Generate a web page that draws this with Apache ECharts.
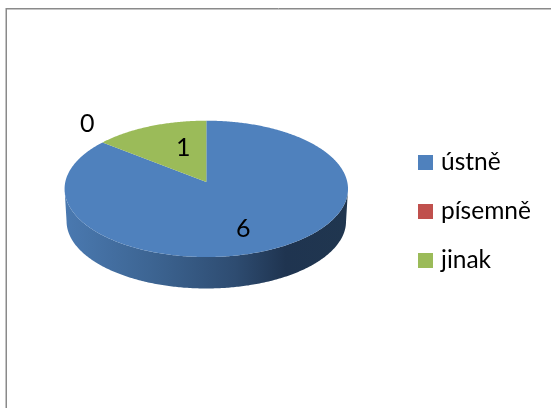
<!DOCTYPE html>
<html>
<head>
<meta charset="utf-8">
<style>html,body{margin:0;padding:0;background:#fff}#c{width:551px;height:408px}</style>
<script src="https://cdn.jsdelivr.net/npm/echarts@6/dist/echarts.min.js"></script>
</head>
<body>
<div id="c"></div>
<script>
const categories = ['ústně', 'písemně', 'jinak'];
const values = [6, 0, 1];
const colors = ['#4f81bd', '#c0504d', '#9bbb59'];

// Perspective projection of the pie disc onto the page
const disc = { cx: 206.3, cy: 182, a: 141, b: 67.5, k: 0.1005, depth: 32.5, bottomScale: 0.986 };
// Label offsets from the disc centre, in pixels
const labelOffset = [[37, 47], [-119, -58], [-23, -34]];
const FONT = 'Lato, "Noto Sans", sans-serif';

const total = values.reduce((s, v) => s + v, 0);
function project(theta, r, scale, dy) {
  const u = r * Math.sin(theta), v = -r * Math.cos(theta);
  const w = 1 - disc.k * v;
  return [disc.cx + scale * disc.a * u / w, disc.cy + dy + scale * disc.b * v / w];
}
function range(index) {
  const before = values.slice(0, index).reduce((s, v) => s + v, 0);
  return [before / total * 2 * Math.PI, (before + values[index]) / total * 2 * Math.PI];
}
function renderSlice(index) {
  const [t0, t1] = range(index);
  const children = [];
  const n = Math.max(2, Math.ceil((t1 - t0) * 90));
  const angles = [];
  for (let i = 0; i <= n; i++) angles.push(t0 + (t1 - t0) * i / n);
  // side wall: only where the rim faces the viewer
  const front = angles.filter(t => -Math.cos(t) >= disc.k);
  if (front.length > 1) {
    const upper = front.map(t => project(t, 1, 1, 0));
    const lower = front.slice().reverse().map(t => project(t, 1, disc.bottomScale, disc.depth));
    children.push({
      type: 'polygon', z2: 1,
      shape: { points: upper.concat(lower) },
      style: {
        fill: {
          type: 'linear', global: true, x: 65, y: 0, x2: 348, y2: 0,
          colorStops: [
            { offset: 0, color: '#4a79b0' },
            { offset: 0.3, color: '#3d6593' },
            { offset: 0.6, color: '#2e4c71' },
            { offset: 0.78, color: '#1f3450' },
            { offset: 1, color: '#20364f' }
          ]
        }
      }
    });
  }
  if (values[index] > 0) {
    const pts = [[disc.cx, disc.cy]].concat(angles.map(t => project(t, 1, 1, 0)));
    children.push({ type: 'polygon', z2: 2, shape: { points: pts }, style: { fill: colors[index] } });
  }
  children.push({
    type: 'text', z2: 3,
    x: disc.cx + labelOffset[index][0], y: disc.cy + labelOffset[index][1],
    style: { text: String(values[index]), fill: '#000', font: '25px ' + FONT, align: 'center', verticalAlign: 'middle' }
  });
  return { type: 'group', children };
}

const chart = echarts.init(document.getElementById('c'), null, { renderer: 'canvas' });
chart.setOption({
  animation: false,
  backgroundColor: '#fff',
  legend: {
    orient: 'vertical', left: 418, top: 150, icon: 'rect',
    itemWidth: 15, itemHeight: 15, itemGap: 24, padding: 0,
    data: categories,
    textStyle: { color: '#000', fontFamily: FONT, fontSize: 24.5, lineHeight: 15, padding: [0, 0, 0, 3] }
  },
  graphic: [
    { type: 'line', shape: { x1: 6, y1: 8.5, x2: 551, y2: 8.5 }, style: { stroke: '#8a8a8a', lineWidth: 1 } },
    { type: 'line', shape: { x1: 7, y1: 9.5, x2: 551, y2: 9.5 }, style: { stroke: '#c4c4c4', lineWidth: 1 } },
    { type: 'line', shape: { x1: 5.5, y1: 8, x2: 5.5, y2: 408 }, style: { stroke: '#c4c4c4', lineWidth: 1 } },
    { type: 'line', shape: { x1: 6.5, y1: 8, x2: 6.5, y2: 408 }, style: { stroke: '#8a8a8a', lineWidth: 1 } }
  ],
  series: categories.map((name, i) => ({
    type: 'custom', name, coordinateSystem: 'none',
    itemStyle: { color: colors[i] },
    data: [values[i]],
    renderItem: () => renderSlice(i)
  }))
});
</script>
</body>
</html>
